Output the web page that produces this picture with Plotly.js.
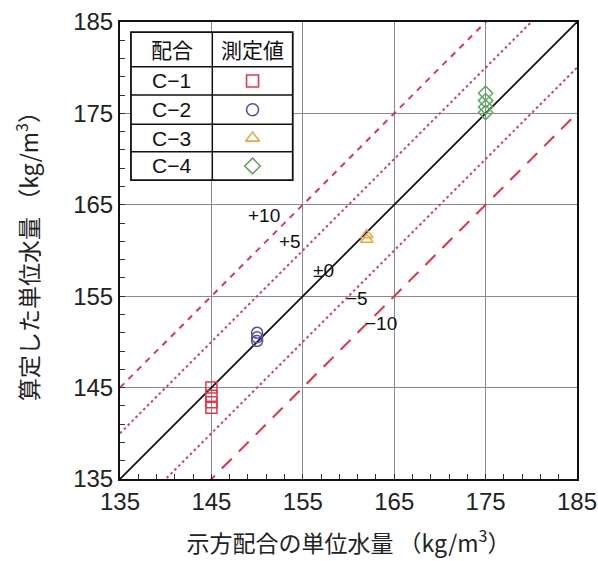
<!DOCTYPE html>
<html><head><meta charset="utf-8">
<script src="https://cdn.plot.ly/plotly-3.0.1.min.js"></script>
<style>html,body{margin:0;padding:0;background:#fff}#c{width:598px;height:561px}</style>
</head><body><div id="c"></div>
<script>
// ---- data ----
const mixNames = ["C−1", "C−2", "C−3", "C−4"];
const mixX = [
  [145, 145, 145, 145],
  [150, 150, 150],
  [162, 162],
  [175, 175, 175, 175]
];
const mixY = [
  [145.0, 144.1, 143.4, 142.8],
  [151.0, 150.5, 150.1],
  [161.7, 161.2],
  [177.2, 176.4, 175.7, 175.1]
];
const symbols = ["square-open", "circle-open", "triangle-up-open", "diamond-open"];
const colors = ["#ee3448", "#5b4ea6", "#f2a640", "#5fa860"];
const offsets = [10, 5, 0, -5, -10];
const offsetLabels = ["+10", "+5", "±0", "−5", "−10"];
const offsetLabelX = [150.8, 153.6, 157.3, 160.9, 163.6];
const offsetLabelY = [163.8, 161.0, 157.8, 154.8, 152.0];
const axisMin = 135, axisMax = 185;
const tickVals = [135, 145, 155, 165, 175, 185];
const legendHeader = ["配合", "測定値"];

// ---- styles ----
const lineStyles = {
  "10":  {color: "#e2306c", width: 2, dash: "6px,6px"},
  "5":   {color: "#cc3a88", width: 2, dash: "2.5px,3px"},
  "0":   {color: "#111111", width: 1.8, dash: "solid"},
  "-5":  {color: "#cc3a88", width: 2, dash: "2.5px,3px"},
  "-10": {color: "#ee2b3d", width: 2, dash: "14px,10px"}
};

const traces = [];
offsets.forEach(o => {
  traces.push({
    x: [axisMin, axisMax], y: [axisMin + o, axisMax + o],
    mode: "lines", line: lineStyles[String(o)], showlegend: false, hoverinfo: "skip"
  });
});
mixNames.forEach((n, i) => {
  traces.push({
    x: mixX[i], y: mixY[i], mode: "markers", name: n, showlegend: false,
    marker: {symbol: symbols[i], size: 11, color: colors[i], line: {width: 1.5, color: colors[i]}}
  });
});

// legend table geometry (data coords)
const tL = 136.2, tM = 145.1, tR = 153.9;
const rowsY = [183.9, 180.1, 177.0, 173.8, 170.8, 167.7];
const shapes = [];
shapes.push({type: "rect", xref: "x", yref: "y", x0: tL, x1: tR, y0: rowsY[5], y1: rowsY[0],
  line: {width: 0}, fillcolor: "#fff", layer: "between"});
shapes.push({type: "rect", xref: "x", yref: "y", x0: tL, x1: tR, y0: rowsY[5], y1: rowsY[0],
  line: {color: "#111", width: 1.8}, fillcolor: "rgba(0,0,0,0)", layer: "above"});
shapes.push({type: "line", xref: "x", yref: "y", x0: tM, x1: tM, y0: rowsY[5], y1: rowsY[0],
  line: {color: "#111", width: 1.5}, layer: "above"});
for (let k = 1; k < 5; k++) {
  shapes.push({type: "line", xref: "x", yref: "y", x0: tL, x1: tR, y0: rowsY[k], y1: rowsY[k],
    line: {color: "#111", width: 1.5}, layer: "above"});
}
const annotations = [];
annotations.push({x: (tL + tM) / 2, y: (rowsY[0] + rowsY[1]) / 2, xref: "x", yref: "y", text: legendHeader[0], showarrow: false,
  font: {family: "Noto Sans CJK JP", size: 21, color: "#111"}});
annotations.push({x: (tM + tR) / 2, y: (rowsY[0] + rowsY[1]) / 2, xref: "x", yref: "y", text: legendHeader[1], showarrow: false,
  font: {family: "Noto Sans CJK JP", size: 21, color: "#111"}});
mixNames.forEach((n, i) => {
  const yc = (rowsY[i + 1] + rowsY[i + 2]) / 2;
  annotations.push({x: (tL + tM) / 2, y: yc, xref: "x", yref: "y", text: n, showarrow: false,
    font: {family: "Liberation Sans, Arial", size: 21, color: "#111"}});
  traces.push({x: [(tM + tR) / 2], y: [yc], mode: "markers", showlegend: false, hoverinfo: "skip", cliponaxis: false,
    marker: {symbol: symbols[i], size: 12, color: colors[i], line: {width: 1.6, color: colors[i]}}});
});
offsetLabels.forEach((t, i) => {
  annotations.push({x: offsetLabelX[i], y: offsetLabelY[i], xref: "x", yref: "y", text: t, showarrow: false,
    font: {family: "Liberation Sans, Arial", size: 19, color: "#111"}});
});

const axisCommon = {
  range: [axisMin, axisMax], tickvals: tickVals, ticktext: tickVals.map(String),
  ticks: "inside", ticklen: 5, tickcolor: "#333",
  showgrid: true, gridcolor: "#8a8a8a", gridwidth: 1,
  showline: true, linecolor: "#111", linewidth: 2, mirror: true,
  zeroline: false, fixedrange: true,
  tickfont: {family: "Liberation Sans, Arial", size: 24, color: "#222"},
  minor: {dtick: 2, tick0: 135, ticks: "inside", ticklen: 5, tickcolor: "#333", showgrid: false}
};

const layout = {
  width: 598, height: 561,
  margin: {l: 120, r: 21, t: 22, b: 82},
  paper_bgcolor: "#fff", plot_bgcolor: "#fff",
  showlegend: false,
  xaxis: Object.assign({}, axisCommon, {
    title: {text: "示方配合の単位水量 （kg/m<sup>3</sup>）", standoff: 22,
      font: {family: "Noto Sans CJK JP", size: 23, color: "#222"}}
  }),
  yaxis: Object.assign({}, axisCommon, {
    title: {text: "算定した単位水量 （kg/m<sup>3</sup>）", standoff: 28,
      font: {family: "Noto Sans CJK JP", size: 23, color: "#222"}}
  }),
  shapes: shapes, annotations: annotations
};
Plotly.newPlot("c", traces, layout, {displayModeBar: false, staticPlot: true});
</script></body></html>
